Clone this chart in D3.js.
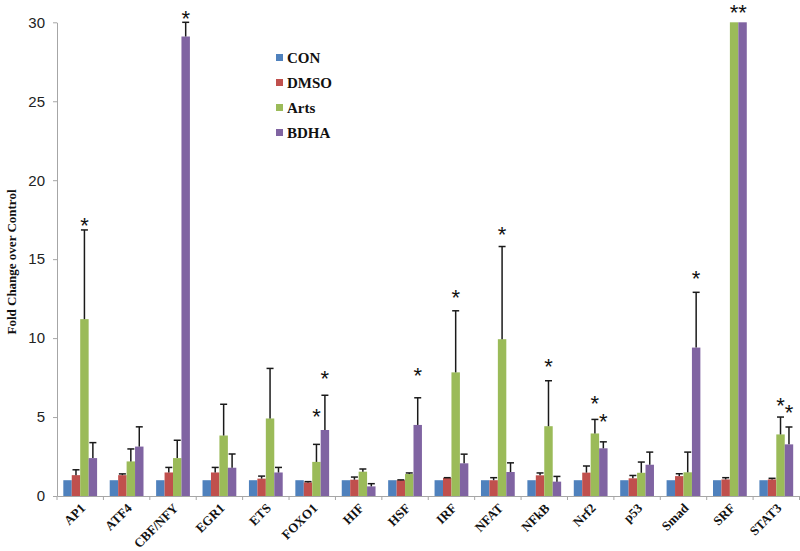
<!DOCTYPE html>
<html>
<head>
<meta charset="utf-8">
<script src="https://cdn.jsdelivr.net/npm/d3@7"></script>
<style>
  html, body { margin: 0; padding: 0; background: #fff; }
  svg { display: block; }
</style>
</head>
<body>
<svg id="chart" width="800" height="551"></svg>
<script>
// ---- data ----
const categories = ["AP1","ATF4","CBF/NFY","EGR1","ETS","FOXO1","HIF","HSF","IRF","NFAT","NFkB","Nrf2","p53","Smad","SRF","STAT3"];
const seriesNames = ["CON","DMSO","Arts","BDHA"];
const seriesColors = ["#4F81BD","#C0504D","#9BBB59","#8064A2"];

const conValues  = [1,1,1,1,1,1,1,1,1,1,1,1,1,1,1,1];
const dmsoValues = [1.32,1.32,1.49,1.49,1.10,0.86,1.03,1.00,1.14,1.00,1.31,1.48,1.12,1.26,1.05,1.05];
const artsValues = [11.2,2.19,2.40,3.83,4.91,2.16,1.54,1.39,7.83,9.93,4.42,3.96,1.47,1.50,30,3.90];
const bdhaValues = [2.40,3.13,29.1,1.79,1.49,4.18,0.61,4.50,2.07,1.52,0.91,3.02,1.98,9.40,30,3.27];

const conErrors  = [0,0,0,0,0,0,0,0,0,0,0,0,0,0,0,0];
const dmsoErrors = [0.34,0.08,0.32,0.32,0.16,0.05,0.17,0.02,0.02,0.16,0.15,0.42,0.18,0.15,0.11,0.07];
const artsErrors = [5.65,0.79,1.13,1.98,3.17,1.11,0.17,0.07,3.90,5.87,2.88,0.89,0.68,1.28,0,1.10];
const bdhaErrors = [0.98,1.25,0.90,0.87,0.32,2.20,0.17,1.72,0.58,0.58,0.33,0.41,0.80,3.50,0,1.10];

const yTicks = [0,5,10,15,20,25,30];

// significance marks: category, series, height (in data units)
const starCategories = ["AP1","CBF/NFY","FOXO1","FOXO1","HSF","IRF","NFAT","NFkB","Nrf2","Nrf2","Smad","SRF","SRF","STAT3","STAT3"];
const starSeries     = ["Arts","BDHA","Arts","BDHA","BDHA","Arts","Arts","Arts","Arts","BDHA","BDHA","Arts","BDHA","Arts","BDHA"];
const starHeights    = [17.45,30.57,5.38,7.79,7.95,12.88,16.91,8.55,6.19,5.07,14.1,30.95,30.95,6.04,5.64];

const yTitle = "Fold Change over Control";

// ---- build ----
const valuesBySeries = [conValues, dmsoValues, artsValues, bdhaValues];
const errorsBySeries = [conErrors, dmsoErrors, artsErrors, bdhaErrors];
const rows = [];
categories.forEach((c, i) => {
  seriesNames.forEach((s, j) => {
    rows.push({cat: c, series: s, value: valuesBySeries[j][i], err: errorsBySeries[j][i]});
  });
});

const svg = d3.select("#chart");
svg.append("rect").attr("width", 800).attr("height", 551).attr("fill", "#fff");

const plotLeft = 57, plotRight = 799.5, plotTop = 22.3, plotBottom = 496;

const x0 = d3.scaleBand().domain(categories).range([plotLeft, plotRight]).padding(0);
const bw = x0.bandwidth();
const inset = bw * 0.136;
const x1 = d3.scaleBand().domain(seriesNames).range([inset, bw - inset]).padding(0);
const y = d3.scaleLinear().domain([0, 30]).range([plotBottom, plotTop]);
const color = d3.scaleOrdinal().domain(seriesNames).range(seriesColors);

// bars
svg.append("g").selectAll("rect").data(rows).join("rect")
  .attr("x", d => x0(d.cat) + x1(d.series))
  .attr("width", x1.bandwidth())
  .attr("y", d => y(d.value))
  .attr("height", d => y(0) - y(d.value))
  .attr("fill", d => color(d.series));

// error bars (upper only)
const errRows = rows.filter(d => d.err > 0);
const eg = svg.append("g").attr("stroke", "#1a1a1a").attr("stroke-width", 1.5);
const capW = 3.5;
const cx = d => x0(d.cat) + x1(d.series) + x1.bandwidth() / 2;
eg.selectAll("line.v").data(errRows).join("line").attr("class", "v")
  .attr("x1", cx).attr("x2", cx)
  .attr("y1", d => y(d.value))
  .attr("y2", d => y(d.value + d.err));
eg.selectAll("line.c").data(errRows).join("line").attr("class", "c")
  .attr("x1", d => cx(d) - capW)
  .attr("x2", d => cx(d) + capW)
  .attr("y1", d => y(d.value + d.err))
  .attr("y2", d => y(d.value + d.err));

// y axis
const yAxis = svg.append("g").attr("transform", `translate(${plotLeft},0)`)
  .call(d3.axisLeft(y).tickValues(yTicks).tickSize(4).tickPadding(8).tickSizeOuter(0));
yAxis.select(".domain").attr("stroke", "#a6a6a6");
yAxis.selectAll(".tick line").attr("stroke", "#a6a6a6");
yAxis.selectAll(".tick text")
  .attr("font-family", "'Liberation Sans', Arial, sans-serif")
  .attr("font-size", 15).attr("fill", "#222");

// x axis
const xAxis = svg.append("g").attr("transform", `translate(0,${plotBottom})`)
  .call(d3.axisBottom(x0).tickSize(0).tickSizeOuter(0));
xAxis.select(".domain").attr("stroke", "#a6a6a6");
xAxis.selectAll(".tick text")
  .attr("font-family", "'Liberation Serif', 'Times New Roman', serif")
  .attr("font-weight", "bold").attr("font-size", 13).attr("fill", "#111")
  .attr("text-anchor", "end")
  .attr("transform", "translate(6,13) rotate(-45)")
  .attr("x", 0).attr("y", 0).attr("dy", 0);
const boundaries = categories.map(c => x0(c)).concat([plotRight]);
xAxis.selectAll("line.bt").data(boundaries).join("line").attr("class", "bt")
  .attr("x1", d => d).attr("x2", d => d).attr("y1", 0).attr("y2", 4)
  .attr("stroke", "#a6a6a6");

// y title
svg.append("text")
  .attr("transform", `translate(16,262) rotate(-90)`)
  .attr("text-anchor", "middle")
  .attr("font-family", "'Liberation Serif', 'Times New Roman', serif")
  .attr("font-weight", "bold").attr("font-size", 13).attr("fill", "#111")
  .text(yTitle);

// stars
const starFont = 22;
svg.append("g").selectAll("text").data(starCategories.map((c, i) => ({cat: c, series: starSeries[i], h: starHeights[i]})))
  .join("text")
  .attr("x", cx)
  .attr("y", d => y(d.h) + starFont * 0.58)
  .attr("text-anchor", "middle")
  .attr("font-family", "'Liberation Sans', Arial, sans-serif")
  .attr("font-size", starFont).attr("fill", "#111")
  .text("*");

// legend
const legend = svg.append("g").attr("transform", "translate(276,63)");
seriesNames.forEach((s, i) => {
  const g = legend.append("g").attr("transform", `translate(0,${i * 25})`);
  g.append("rect").attr("x", 0).attr("y", -9).attr("width", 7).attr("height", 7).attr("fill", color(s));
  g.append("text").attr("x", 11).attr("y", 0)
    .attr("font-family", "'Liberation Serif', 'Times New Roman', serif")
    .attr("font-weight", "bold").attr("font-size", 15).attr("fill", "#111")
    .text(s);
});
</script>
</body>
</html>
